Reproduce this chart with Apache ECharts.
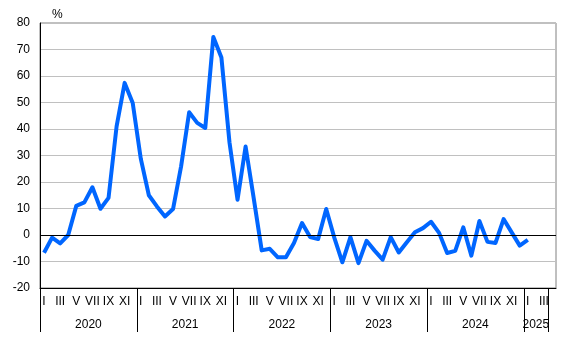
<!DOCTYPE html>
<html>
<head>
<meta charset="utf-8">
<script src="https://cdn.jsdelivr.net/npm/echarts@6/dist/echarts.min.js"></script>
<style>
  html, body { margin: 0; padding: 0; background: #fff; }
  #chart { width: 569px; height: 354px; }
</style>
</head>
<body>
<div id="chart"></div>
<script>
// years shown on the lower axis row, and how many months each one covers on the axis
const years = ['2020', '2021', '2022', '2023', '2024', '2025']
const yearMonths = [12, 12, 12, 12, 12, 3]
// one extra empty month at the right end of the axis
const extraMonths = 1

const monthLabels = ['I', '', 'III', '', 'V', '', 'VII', '', 'IX', '', 'XI', '']

// monthly change, % (Jan 2020 - Jan 2025)
const values = [
  -6.7, -1, -3.2, 0, 11, 12.3, 18, 9.9, 14, 41, 57.4, 49.8,
  28.8, 15, 10.8, 7, 9.8, 25.9, 46.3, 42.3, 40.4, 74.7, 67, 35,
  13.3, 33.4, 14, -5.8, -5.2, -8.4, -8.4, -3, 4.5, -0.8, -1.5, 9.8,
  -1, -10.3, -0.8, -10.6, -2.2, -5.9, -9.3, -0.8, -6.6, -2.7, 1, 2.6,
  5, 0.8, -6.8, -6, 2.9, -7.8, 5.3, -2.6, -3, 6, 1, -4,
  -1.8
]

const yTicks = { min: -20, max: 80, interval: 10 }

// build month categories
const monthCats = []
years.forEach((y, yi) => {
  for (let m = 0; m < yearMonths[yi]; m++) monthCats.push(y + '-' + (m + 1))
})
for (let i = 0; i < extraMonths; i++) monthCats.push('pad-' + i)
const nMonths = monthCats.length

const lineData = monthCats.map((c, i) => (i < values.length ? values[i] : null))

// year row: half-month points so the year names sit in the middle of their span
const halfCats = []
for (let i = 0; i <= nMonths * 2; i++) halfCats.push('')
const yearBounds = [0]
let acc = 0
years.forEach((y, yi) => {
  const start = acc
  acc += yearMonths[yi]
  yearBounds.push(acc * 2)
  halfCats[start + acc] = y
})

const font = 'Liberation Sans, Arial, sans-serif'

const chart = echarts.init(document.getElementById('chart'))

chart.setOption({
  animation: false,
  textStyle: { fontFamily: font },
  grid: {
    left: 40, right: 13, top: 23, bottom: 66,
    show: true,
    borderColor: '#808080',
    borderWidth: 1
  },
  xAxis: [
    {
      type: 'category',
      data: monthCats,
      boundaryGap: true,
      axisLine: { onZero: false, lineStyle: { color: '#000', width: 1 } },
      axisTick: { show: false },
      axisLabel: {
        interval: 0,
        hideOverlap: false,
        margin: 8,
        fontSize: 12,
        color: '#000',
        fontFamily: font,
        formatter: (v, i) => monthLabels[i % 12]
      },
      splitLine: { show: false }
    },
    {
      type: 'category',
      data: halfCats,
      boundaryGap: false,
      position: 'bottom',
      axisLine: { show: false, onZero: false },
      axisTick: {
        show: true,
        length: 44,
        interval: (i) => yearBounds.includes(i),
        lineStyle: { color: '#000', width: 1 }
      },
      axisLabel: {
        interval: 0,
        margin: 31,
        fontSize: 12,
        color: '#000',
        fontFamily: font
      },
      splitLine: { show: false }
    }
  ],
  yAxis: {
    type: 'value',
    min: yTicks.min,
    max: yTicks.max,
    interval: yTicks.interval,
    name: '%',
    nameLocation: 'end',
    nameGap: 2,
    nameTextStyle: {
      fontSize: 12,
      color: '#000',
      fontFamily: font,
      align: 'left',
      padding: [0, 0, 0, 12]
    },
    axisLine: { show: true, lineStyle: { color: '#000', width: 1 } },
    axisTick: { show: false },
    axisLabel: { fontSize: 12, color: '#000', margin: 10, fontFamily: font },
    splitLine: { show: true, lineStyle: { color: '#c0c0c0', width: 1 } }
  },
  series: [
    {
      type: 'line',
      data: lineData,
      xAxisIndex: 0,
      symbol: 'none',
      smooth: false,
      lineStyle: { color: '#0066ff', width: 4, join: 'round' },
      markLine: {
        silent: true,
        symbol: 'none',
        label: { show: false },
        lineStyle: { color: '#000', width: 1, type: 'solid' },
        data: [{ yAxis: 0 }]
      },
      z: 3
    }
  ]
})
</script>
</body>
</html>
